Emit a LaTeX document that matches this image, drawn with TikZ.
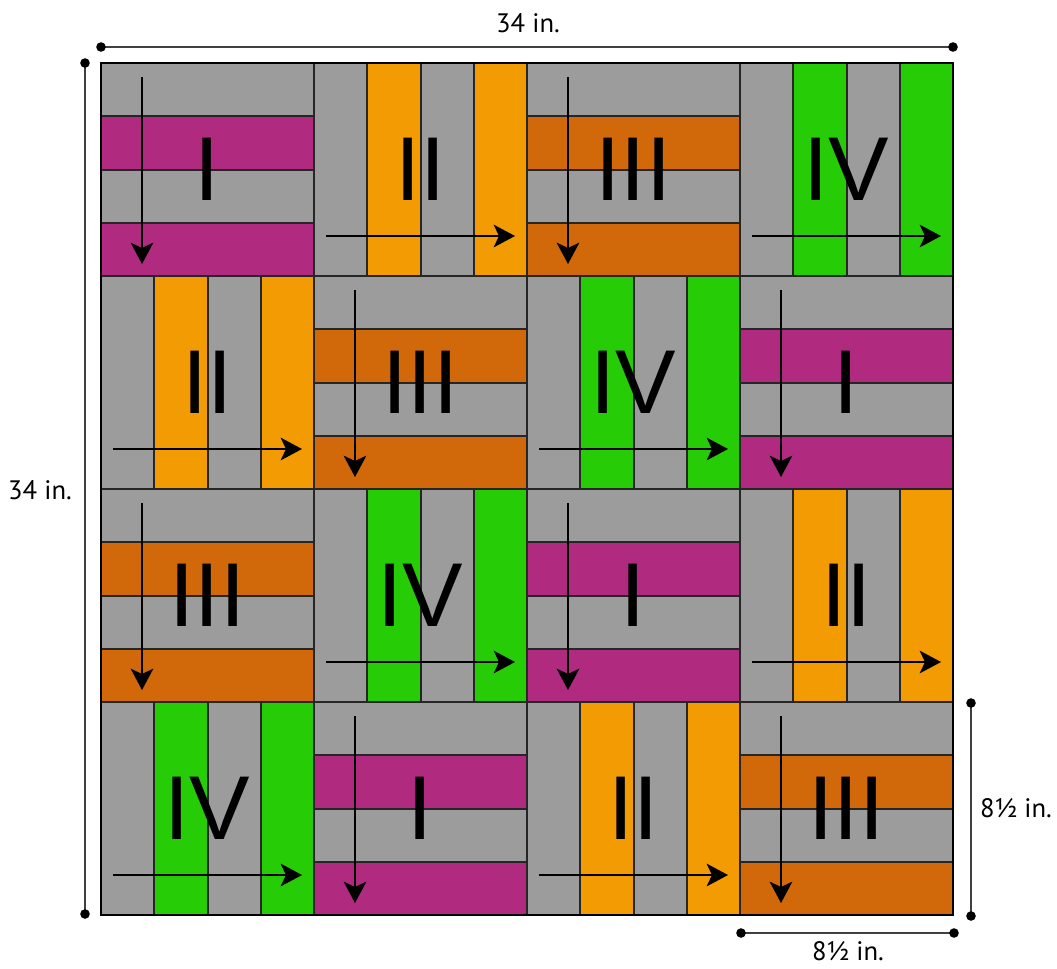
\documentclass[tikz,border=0pt]{standalone}
\usepackage{fontspec}
\setmainfont{PT Sans}
\newfontfamily\romanfont{Liberation Sans}
\usetikzlibrary{arrows.meta}
\definecolor{quiltgray}{RGB}{156,156,156}
\definecolor{plum}{RGB}{176,42,128}
\definecolor{amber}{RGB}{243,155,2}
\definecolor{rust}{RGB}{209,104,10}
\definecolor{lime}{RGB}{38,204,6}

\begin{document}
\begin{tikzpicture}[x=0.75pt,y=-0.75pt,
  seam/.style={line width=1.5pt,draw=black!85},
  guide/.style={line width=1.4pt,-{Stealth[length=16pt,width=17pt,inset=4pt]}},
  numeral/.style={inner sep=0pt,font=\romanfont\fontsize{68}{68}\selectfont},
  dimline/.style={line width=2.2pt,draw=black!75},
  dimlabel/.style={inner sep=0pt,font=\fontsize{20}{20}\selectfont}]
  \useasboundingbox (0,0) rectangle (1057,968);
  % one block is 213 units wide, cut in four strips
  \foreach \r in {0,...,3}{
    \foreach \c in {0,...,3}{
      \pgfmathtruncatemacro{\k}{mod(\r+\c,4)}
      \pgfmathsetmacro{\xa}{101+213*\c}
      \pgfmathsetmacro{\ya}{63+213*\r}
      \ifcase\k \def\fab{plum}\def\num{I}\or \def\fab{amber}\def\num{II}\or
        \def\fab{rust}\def\num{III}\or \def\fab{lime}\def\num{IV}\fi
      \fill[quiltgray] (\xa,\ya) rectangle ++(213,213);
      \ifodd\k
        % strips run up and down
        \fill[\fab] (\xa+53.25,\ya) rectangle ++(53.25,213);
        \fill[\fab] (\xa+159.75,\ya) rectangle ++(53.25,213);
        \foreach \i in {1,2,3}
          \draw[seam] (\xa+53.25*\i,\ya) -- ++(0,213);
        \coordinate (s\r\c) at (\xa+12,\ya+173);
        \coordinate (e\r\c) at (\xa+201,\ya+173);
      \else
        % strips run across
        \fill[\fab] (\xa,\ya+53.25) rectangle ++(213,53.25);
        \fill[\fab] (\xa,\ya+159.75) rectangle ++(213,53.25);
        \foreach \i in {1,2,3}
          \draw[seam] (\xa,\ya+53.25*\i) -- ++(213,0);
        \coordinate (s\r\c) at (\xa+41,\ya+14);
        \coordinate (e\r\c) at (\xa+41,\ya+201);
      \fi
      \draw[seam] (\xa,\ya) rectangle ++(213,213);
      \draw[guide] (s\r\c) -- (e\r\c);
      \node[numeral] (n\r\c) at (\xa+106.5,\ya+106.5) {\num};
    }
  }
  \draw[line width=2pt] (101,63) rectangle (953,915);

  % measures
  \coordinate (wl) at (101,47);  \coordinate (wr) at (953,47);
  \coordinate (ht) at (85,63);   \coordinate (hb) at (85,914);
  \coordinate (bt) at (971,703); \coordinate (bb) at (971,916);
  \coordinate (bl) at (741,933); \coordinate (br) at (954,933);
  \draw[dimline] (wl) -- (wr);
  \draw[dimline] (ht) -- (hb);
  \draw[dimline] (bt) -- (bb);
  \draw[dimline] (bl) -- (br);
  \foreach \p in {wl,wr,ht,hb,bt,bb,bl,br}
    \fill (\p) circle[radius=3.6pt];
  \node[dimlabel] (wlab) at (528,23) {34 in.};
  \node[dimlabel] (hlab) at (40,490) {34 in.};
  \node[dimlabel] (blab) at (1016,808) {8½ in.};
  \node[dimlabel] (llab) at (848,951) {8½ in.};
\end{tikzpicture}
\end{document}
